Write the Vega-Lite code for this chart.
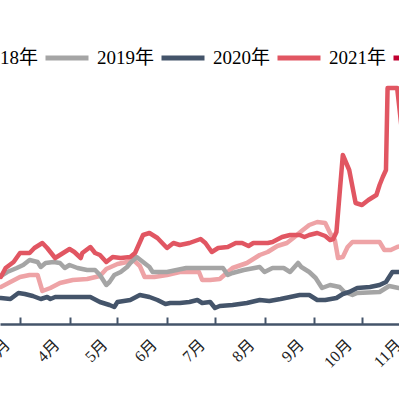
{
  "$schema": "https://vega.github.io/schema/vega-lite/v6.json",
  "width": 420,
  "height": 324,
  "autosize": {"type": "none"},
  "padding": {"left": 0, "right": -21, "top": 0, "bottom": 75},
  "background": "#ffffff",
  "config": {"view": {"stroke": null}},
  "data": {
    "values": [
      {"year": "2018年", "date": "2021-02-17", "value": 2740},
      {"year": "2018年", "date": "2021-02-23", "value": 2840},
      {"year": "2018年", "date": "2021-03-01", "value": 2940},
      {"year": "2018年", "date": "2021-03-07", "value": 2980},
      {"year": "2018年", "date": "2021-03-12", "value": 2980},
      {"year": "2018年", "date": "2021-03-15", "value": 2660},
      {"year": "2018年", "date": "2021-03-20", "value": 2720},
      {"year": "2018年", "date": "2021-03-26", "value": 2820},
      {"year": "2018年", "date": "2021-04-03", "value": 2880},
      {"year": "2018年", "date": "2021-04-12", "value": 2900},
      {"year": "2018年", "date": "2021-04-20", "value": 2960},
      {"year": "2018年", "date": "2021-04-24", "value": 3100},
      {"year": "2018年", "date": "2021-05-01", "value": 3200},
      {"year": "2018年", "date": "2021-05-07", "value": 3240},
      {"year": "2018年", "date": "2021-05-11", "value": 3280},
      {"year": "2018年", "date": "2021-05-15", "value": 3160},
      {"year": "2018年", "date": "2021-05-18", "value": 2940},
      {"year": "2018年", "date": "2021-05-24", "value": 2940},
      {"year": "2018年", "date": "2021-06-01", "value": 2980},
      {"year": "2018年", "date": "2021-06-09", "value": 3040},
      {"year": "2018年", "date": "2021-06-21", "value": 3040},
      {"year": "2018年", "date": "2021-06-23", "value": 2880},
      {"year": "2018年", "date": "2021-06-28", "value": 2880},
      {"year": "2018年", "date": "2021-07-04", "value": 2900},
      {"year": "2018年", "date": "2021-07-09", "value": 3040},
      {"year": "2018年", "date": "2021-07-12", "value": 3120},
      {"year": "2018年", "date": "2021-07-21", "value": 3220},
      {"year": "2018年", "date": "2021-07-29", "value": 3380},
      {"year": "2018年", "date": "2021-08-03", "value": 3440},
      {"year": "2018年", "date": "2021-08-09", "value": 3560},
      {"year": "2018年", "date": "2021-08-15", "value": 3620},
      {"year": "2018年", "date": "2021-08-19", "value": 3720},
      {"year": "2018年", "date": "2021-08-25", "value": 3880},
      {"year": "2018年", "date": "2021-08-29", "value": 3980},
      {"year": "2018年", "date": "2021-09-03", "value": 4040},
      {"year": "2018年", "date": "2021-09-08", "value": 4020},
      {"year": "2018年", "date": "2021-09-11", "value": 3820},
      {"year": "2018年", "date": "2021-09-14", "value": 3680},
      {"year": "2018年", "date": "2021-09-16", "value": 3320},
      {"year": "2018年", "date": "2021-09-19", "value": 3340},
      {"year": "2018年", "date": "2021-09-22", "value": 3540},
      {"year": "2018年", "date": "2021-09-25", "value": 3640},
      {"year": "2018年", "date": "2021-10-12", "value": 3640},
      {"year": "2018年", "date": "2021-10-15", "value": 3480},
      {"year": "2018年", "date": "2021-10-19", "value": 3480},
      {"year": "2018年", "date": "2021-10-23", "value": 3540},
      {"year": "2018年", "date": "2021-10-28", "value": 3580},

      {"year": "2019年", "date": "2021-02-17", "value": 2960},
      {"year": "2019年", "date": "2021-02-21", "value": 3040},
      {"year": "2019年", "date": "2021-02-27", "value": 3120},
      {"year": "2019年", "date": "2021-03-03", "value": 3180},
      {"year": "2019年", "date": "2021-03-07", "value": 3280},
      {"year": "2019年", "date": "2021-03-12", "value": 3240},
      {"year": "2019年", "date": "2021-03-14", "value": 3140},
      {"year": "2019年", "date": "2021-03-17", "value": 3220},
      {"year": "2019年", "date": "2021-03-22", "value": 3240},
      {"year": "2019年", "date": "2021-03-26", "value": 3220},
      {"year": "2019年", "date": "2021-03-29", "value": 3120},
      {"year": "2019年", "date": "2021-04-01", "value": 3180},
      {"year": "2019年", "date": "2021-04-06", "value": 3120},
      {"year": "2019年", "date": "2021-04-12", "value": 3080},
      {"year": "2019年", "date": "2021-04-17", "value": 3080},
      {"year": "2019年", "date": "2021-04-20", "value": 2980},
      {"year": "2019年", "date": "2021-04-22", "value": 2880},
      {"year": "2019年", "date": "2021-04-24", "value": 2780},
      {"year": "2019年", "date": "2021-04-26", "value": 2840},
      {"year": "2019年", "date": "2021-04-29", "value": 2980},
      {"year": "2019年", "date": "2021-05-03", "value": 3040},
      {"year": "2019年", "date": "2021-05-07", "value": 3140},
      {"year": "2019年", "date": "2021-05-09", "value": 3220},
      {"year": "2019年", "date": "2021-05-13", "value": 3340},
      {"year": "2019年", "date": "2021-05-17", "value": 3240},
      {"year": "2019年", "date": "2021-05-21", "value": 3140},
      {"year": "2019年", "date": "2021-05-23", "value": 3040},
      {"year": "2019年", "date": "2021-06-01", "value": 3040},
      {"year": "2019年", "date": "2021-06-13", "value": 3120},
      {"year": "2019年", "date": "2021-07-06", "value": 3120},
      {"year": "2019年", "date": "2021-07-09", "value": 2980},
      {"year": "2019年", "date": "2021-07-12", "value": 3020},
      {"year": "2019年", "date": "2021-07-19", "value": 3080},
      {"year": "2019年", "date": "2021-07-29", "value": 3140},
      {"year": "2019年", "date": "2021-08-01", "value": 3040},
      {"year": "2019年", "date": "2021-08-06", "value": 3120},
      {"year": "2019年", "date": "2021-08-13", "value": 3120},
      {"year": "2019年", "date": "2021-08-17", "value": 3040},
      {"year": "2019年", "date": "2021-08-22", "value": 3220},
      {"year": "2019年", "date": "2021-08-24", "value": 3140},
      {"year": "2019年", "date": "2021-08-29", "value": 3040},
      {"year": "2019年", "date": "2021-09-02", "value": 2920},
      {"year": "2019年", "date": "2021-09-06", "value": 2720},
      {"year": "2019年", "date": "2021-09-11", "value": 2780},
      {"year": "2019年", "date": "2021-09-17", "value": 2740},
      {"year": "2019年", "date": "2021-09-20", "value": 2640},
      {"year": "2019年", "date": "2021-09-25", "value": 2580},
      {"year": "2019年", "date": "2021-09-28", "value": 2620},
      {"year": "2019年", "date": "2021-10-12", "value": 2640},
      {"year": "2019年", "date": "2021-10-18", "value": 2760},
      {"year": "2019年", "date": "2021-10-24", "value": 2720},
      {"year": "2019年", "date": "2021-10-28", "value": 2720},

      {"year": "2020年", "date": "2021-02-17", "value": 2520},
      {"year": "2020年", "date": "2021-02-23", "value": 2500},
      {"year": "2020年", "date": "2021-02-28", "value": 2620},
      {"year": "2020年", "date": "2021-03-04", "value": 2600},
      {"year": "2020年", "date": "2021-03-09", "value": 2560},
      {"year": "2020年", "date": "2021-03-14", "value": 2500},
      {"year": "2020年", "date": "2021-03-18", "value": 2540},
      {"year": "2020年", "date": "2021-03-20", "value": 2500},
      {"year": "2020年", "date": "2021-03-23", "value": 2540},
      {"year": "2020年", "date": "2021-04-06", "value": 2540},
      {"year": "2020年", "date": "2021-04-14", "value": 2540},
      {"year": "2020年", "date": "2021-04-20", "value": 2440},
      {"year": "2020年", "date": "2021-04-26", "value": 2380},
      {"year": "2020年", "date": "2021-04-29", "value": 2340},
      {"year": "2020年", "date": "2021-05-01", "value": 2440},
      {"year": "2020年", "date": "2021-05-09", "value": 2480},
      {"year": "2020年", "date": "2021-05-15", "value": 2580},
      {"year": "2020年", "date": "2021-05-21", "value": 2540},
      {"year": "2020年", "date": "2021-05-26", "value": 2480},
      {"year": "2020年", "date": "2021-05-31", "value": 2400},
      {"year": "2020年", "date": "2021-06-03", "value": 2420},
      {"year": "2020年", "date": "2021-06-09", "value": 2420},
      {"year": "2020年", "date": "2021-06-15", "value": 2440},
      {"year": "2020年", "date": "2021-06-20", "value": 2480},
      {"year": "2020年", "date": "2021-06-23", "value": 2420},
      {"year": "2020年", "date": "2021-06-28", "value": 2440},
      {"year": "2020年", "date": "2021-07-01", "value": 2320},
      {"year": "2020年", "date": "2021-07-04", "value": 2360},
      {"year": "2020年", "date": "2021-07-12", "value": 2380},
      {"year": "2020年", "date": "2021-07-21", "value": 2420},
      {"year": "2020年", "date": "2021-07-29", "value": 2480},
      {"year": "2020年", "date": "2021-08-04", "value": 2460},
      {"year": "2020年", "date": "2021-08-11", "value": 2500},
      {"year": "2020年", "date": "2021-08-17", "value": 2540},
      {"year": "2020年", "date": "2021-08-23", "value": 2580},
      {"year": "2020年", "date": "2021-08-29", "value": 2580},
      {"year": "2020年", "date": "2021-09-03", "value": 2480},
      {"year": "2020年", "date": "2021-09-08", "value": 2480},
      {"year": "2020年", "date": "2021-09-15", "value": 2520},
      {"year": "2020年", "date": "2021-09-19", "value": 2600},
      {"year": "2020年", "date": "2021-09-23", "value": 2640},
      {"year": "2020年", "date": "2021-09-28", "value": 2720},
      {"year": "2020年", "date": "2021-10-06", "value": 2740},
      {"year": "2020年", "date": "2021-10-12", "value": 2780},
      {"year": "2020年", "date": "2021-10-16", "value": 2840},
      {"year": "2020年", "date": "2021-10-20", "value": 3040},
      {"year": "2020年", "date": "2021-10-28", "value": 3040},

      {"year": "2021年", "date": "2021-02-17", "value": 2940},
      {"year": "2021年", "date": "2021-02-20", "value": 3120},
      {"year": "2021年", "date": "2021-02-25", "value": 3240},
      {"year": "2021年", "date": "2021-03-01", "value": 3420},
      {"year": "2021年", "date": "2021-03-07", "value": 3420},
      {"year": "2021年", "date": "2021-03-10", "value": 3520},
      {"year": "2021年", "date": "2021-03-15", "value": 3620},
      {"year": "2021年", "date": "2021-03-18", "value": 3520},
      {"year": "2021年", "date": "2021-03-23", "value": 3320},
      {"year": "2021年", "date": "2021-03-28", "value": 3420},
      {"year": "2021年", "date": "2021-04-01", "value": 3500},
      {"year": "2021年", "date": "2021-04-04", "value": 3440},
      {"year": "2021年", "date": "2021-04-08", "value": 3320},
      {"year": "2021年", "date": "2021-04-09", "value": 3420},
      {"year": "2021年", "date": "2021-04-14", "value": 3540},
      {"year": "2021年", "date": "2021-04-17", "value": 3420},
      {"year": "2021年", "date": "2021-04-20", "value": 3380},
      {"year": "2021年", "date": "2021-04-24", "value": 3240},
      {"year": "2021年", "date": "2021-04-28", "value": 3340},
      {"year": "2021年", "date": "2021-05-03", "value": 3320},
      {"year": "2021年", "date": "2021-05-09", "value": 3340},
      {"year": "2021年", "date": "2021-05-12", "value": 3420},
      {"year": "2021年", "date": "2021-05-17", "value": 3780},
      {"year": "2021年", "date": "2021-05-21", "value": 3820},
      {"year": "2021年", "date": "2021-05-26", "value": 3720},
      {"year": "2021年", "date": "2021-06-01", "value": 3520},
      {"year": "2021年", "date": "2021-06-05", "value": 3620},
      {"year": "2021年", "date": "2021-06-09", "value": 3580},
      {"year": "2021年", "date": "2021-06-15", "value": 3620},
      {"year": "2021年", "date": "2021-06-22", "value": 3700},
      {"year": "2021年", "date": "2021-06-25", "value": 3620},
      {"year": "2021年", "date": "2021-06-29", "value": 3440},
      {"year": "2021年", "date": "2021-07-03", "value": 3520},
      {"year": "2021年", "date": "2021-07-09", "value": 3540},
      {"year": "2021年", "date": "2021-07-14", "value": 3620},
      {"year": "2021年", "date": "2021-07-18", "value": 3620},
      {"year": "2021年", "date": "2021-07-22", "value": 3560},
      {"year": "2021年", "date": "2021-07-25", "value": 3620},
      {"year": "2021年", "date": "2021-07-29", "value": 3620},
      {"year": "2021年", "date": "2021-08-03", "value": 3620},
      {"year": "2021年", "date": "2021-08-06", "value": 3640},
      {"year": "2021年", "date": "2021-08-12", "value": 3740},
      {"year": "2021年", "date": "2021-08-17", "value": 3780},
      {"year": "2021年", "date": "2021-08-23", "value": 3780},
      {"year": "2021年", "date": "2021-08-26", "value": 3740},
      {"year": "2021年", "date": "2021-08-29", "value": 3780},
      {"year": "2021年", "date": "2021-09-03", "value": 3820},
      {"year": "2021年", "date": "2021-09-08", "value": 3760},
      {"year": "2021年", "date": "2021-09-11", "value": 3680},
      {"year": "2021年", "date": "2021-09-13", "value": 3700},
      {"year": "2021年", "date": "2021-09-15", "value": 3840},
      {"year": "2021年", "date": "2021-09-19", "value": 5380},
      {"year": "2021年", "date": "2021-09-23", "value": 5080},
      {"year": "2021年", "date": "2021-09-27", "value": 4420},
      {"year": "2021年", "date": "2021-10-01", "value": 4380},
      {"year": "2021年", "date": "2021-10-05", "value": 4480},
      {"year": "2021年", "date": "2021-10-10", "value": 4580},
      {"year": "2021年", "date": "2021-10-12", "value": 4780},
      {"year": "2021年", "date": "2021-10-14", "value": 4940},
      {"year": "2021年", "date": "2021-10-16", "value": 5080},
      {"year": "2021年", "date": "2021-10-17", "value": 6720},
      {"year": "2021年", "date": "2021-10-23", "value": 6720},
      {"year": "2021年", "date": "2021-10-28", "value": 5280}
    ]
  },
  "mark": {"type": "line", "strokeWidth": 4.5, "strokeJoin": "round", "strokeCap": "round", "clip": true},
  "encoding": {
    "x": {
      "field": "date",
      "type": "temporal",
      "scale": {
        "type": "utc",
        "domain": [
          {"year": 2021, "month": 2, "date": 16, "hours": 11, "minutes": 38, "utc": true},
          {"year": 2021, "month": 11, "date": 6, "hours": 7, "minutes": 0, "utc": true}
        ]
      },
      "axis": {
        "title": null,
        "grid": false,
        "values": [
          {"year": 2021, "month": 3, "date": 1, "utc": true},
          {"year": 2021, "month": 4, "date": 1, "utc": true},
          {"year": 2021, "month": 5, "date": 1, "utc": true},
          {"year": 2021, "month": 6, "date": 1, "utc": true},
          {"year": 2021, "month": 7, "date": 1, "utc": true},
          {"year": 2021, "month": 8, "date": 1, "utc": true},
          {"year": 2021, "month": 9, "date": 1, "utc": true},
          {"year": 2021, "month": 10, "date": 1, "utc": true},
          {"year": 2021, "month": 11, "date": 1, "utc": true}
        ],
        "labelExpr": "utcFormat(datum.value, '%-m') + '月'",
        "domainColor": "#44546a",
        "domainWidth": 2.5,
        "tickColor": "#44546a",
        "tickWidth": 2,
        "tickSize": -7,
        "labelAngle": -45,
        "labelAlign": "right",
        "labelBaseline": "middle",
        "labelFont": "Liberation Serif, Noto Sans CJK SC",
        "labelFontSize": 16,
        "labelColor": "#222222",
        "labelPadding": 25,
        "labelOffset": -13,
        "labelOverlap": false,
        "labelBound": false,
        "labelFlush": false
      }
    },
    "y": {
      "field": "value",
      "type": "quantitative",
      "scale": {"domain": [2000, 8480], "nice": false, "zero": false},
      "axis": null
    },
    "color": {
      "field": "year",
      "type": "nominal",
      "scale": {
        "domain": ["2018年", "2019年", "2020年", "2021年", "2022年"],
        "range": ["#eea3a6", "#a5a5a5", "#44546a", "#e15662", "#c00030"]
      },
      "legend": {
        "orient": "none",
        "legendX": -73,
        "legendY": 34,
        "direction": "horizontal",
        "columns": 5,
        "title": null,
        "symbolType": "stroke",
        "symbolSize": 1849,
        "symbolStrokeWidth": 5,
        "labelFont": "Liberation Serif, Noto Sans CJK SC",
        "labelFontSize": 19,
        "labelColor": "#000000",
        "labelOffset": 6,
        "columnPadding": -4,
        "padding": 0
      }
    }
  }
}
